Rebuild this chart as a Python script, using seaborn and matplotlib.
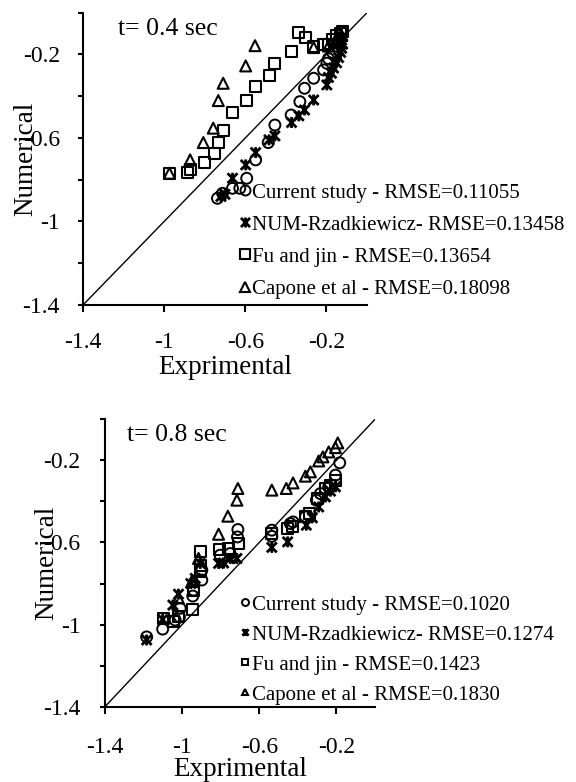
import numpy as np
import pandas as pd
import matplotlib
matplotlib.use("Agg")
import matplotlib.pyplot as plt
from matplotlib.path import Path
from matplotlib.lines import Line2D
import seaborn as sns

sns.set_theme(style="ticks")
plt.rcParams["font.family"] = ["Liberation Serif", "DejaVu Serif"]

# ---------------- t = 0.4 sec ----------------
cur04_x = [-0.737, -0.712, -0.663, -0.627, -0.593, -0.549, -0.487, -0.454, -0.374, -0.331,
           -0.308, -0.263, -0.214, -0.198, -0.19, -0.17, -0.15, -0.14, -0.13]
cur04_y = [-0.889, -0.865, -0.841, -0.841, -0.793, -0.705, -0.622, -0.538, -0.49, -0.426,
           -0.362, -0.314, -0.274, -0.242, -0.22, -0.19, -0.16, -0.14, -0.12]
num04_x = [-0.72, -0.70, -0.663, -0.598, -0.549, -0.483, -0.454, -0.372, -0.336, -0.308,
           -0.263, -0.198, -0.19, -0.175, -0.165, -0.15, -0.14, -0.13, -0.125, -0.12]
num04_y = [-0.88, -0.87, -0.793, -0.729, -0.67, -0.609, -0.59, -0.526, -0.494, -0.466,
           -0.418, -0.346, -0.31, -0.29, -0.265, -0.24, -0.215, -0.19, -0.17, -0.15]
fu04_x = [-0.974, -0.884, -0.872, -0.802, -0.753, -0.733, -0.707, -0.663, -0.595, -0.549,
          -0.48, -0.454, -0.374, -0.336, -0.303, -0.263, -0.214, -0.19, -0.17, -0.15,
          -0.13, -0.12]
fu04_y = [-0.77, -0.767, -0.752, -0.718, -0.676, -0.622, -0.565, -0.479, -0.421, -0.354,
          -0.303, -0.242, -0.186, -0.095, -0.117, -0.162, -0.154, -0.15, -0.13, -0.11,
          -0.10, -0.09]
cap04_x = [-0.974, -0.872, -0.807, -0.758, -0.733, -0.709, -0.598, -0.552, -0.263, -0.19,
           -0.16, -0.14, -0.125]
cap04_y = [-0.769, -0.705, -0.622, -0.553, -0.421, -0.338, -0.255, -0.158, -0.167, -0.16,
           -0.14, -0.12, -0.11]
labels04 = ["Current study - RMSE=0.11055", "NUM-Rzadkiewicz- RMSE=0.13458",
            "Fu and jin - RMSE=0.13654", "Capone et al - RMSE=0.18098"]

# ---------------- t = 0.8 sec ----------------
cur08_x = [-1.184, -1.101, -1.036, -1.014, -1.01, -0.945, -0.941, -0.898, -0.898, -0.803,
           -0.751, -0.713, -0.711, -0.535, -0.535, -0.439, -0.425, -0.361, -0.304, -0.283,
           -0.24, -0.205, -0.183]
cur08_y = [-1.06, -1.022, -0.978, -0.962, -0.921, -0.861, -0.832, -0.783, -0.735, -0.662,
           -0.654, -0.573, -0.537, -0.54, -0.57, -0.508, -0.50, -0.475, -0.394, -0.362,
           -0.329, -0.272, -0.212]
num08_x = [-1.184, -1.101, -1.048, -1.019, -0.955, -0.932, -0.906, -0.811, -0.785, -0.751,
           -0.716, -0.535, -0.453, -0.356, -0.325, -0.292, -0.257, -0.231, -0.205]
num08_y = [-1.075, -0.975, -0.905, -0.852, -0.80, -0.775, -0.702, -0.702, -0.70, -0.678,
           -0.678, -0.624, -0.597, -0.516, -0.48, -0.427, -0.378, -0.35, -0.329]
fu08_x = [-1.097, -1.045, -1.02, -0.946, -0.941, -0.906, -0.906, -0.906, -0.808, -0.759,
          -0.708, -0.535, -0.456, -0.43, -0.361, -0.34, -0.30, -0.257, -0.231, -0.205]
fu08_y = [-0.97, -0.986, -0.96, -0.926, -0.832, -0.743, -0.71, -0.642, -0.634, -0.629,
          -0.605, -0.556, -0.532, -0.52, -0.475, -0.46, -0.386, -0.337, -0.321, -0.297]
cap08_x = [-1.02, -0.95, -0.915, -0.811, -0.763, -0.716, -0.711, -0.535, -0.46, -0.425,
           -0.361, -0.335, -0.292, -0.27, -0.24, -0.205, -0.193]
cap08_y = [-0.87, -0.79, -0.678, -0.56, -0.472, -0.394, -0.337, -0.345, -0.337, -0.31,
           -0.277, -0.256, -0.203, -0.183, -0.159, -0.138, -0.115]
labels08 = ["Current study - RMSE=0.1020", "NUM-Rzadkiewicz- RMSE=0.1274",
            "Fu and jin - RMSE=0.1423", "Capone et al - RMSE=0.1830"]

tick_vals = [-1.4, -1.0, -0.6, -0.2]
tick_text = ["-1.4", "-1", "-0.6", "-0.2"]

# asterisk-style marker: an X crossed by a vertical bar
star = Path([(-1, -1), (1, 1), (-1, 1), (1, -1), (0, -1.1), (0, 1.1)],
            [Path.MOVETO, Path.LINETO, Path.MOVETO, Path.LINETO, Path.MOVETO, Path.LINETO])
markers = ["o", star, "s", "^"]
marker_lw = [1.4, 2.0, 1.5, 1.5]

fig = plt.figure(figsize=(5.76, 7.82), dpi=100)


def panel(rect, series, labels, title, leg_anchor, leg_ms, leg_space,
          ylab_x, xlab_y, ypad, xpad):
    ax = fig.add_axes(rect)
    frames = []
    for (xs, ys), lab in zip(series, labels):
        frames.append(pd.DataFrame({"Exprimental": xs, "Numerical": ys, "Series": lab}))
    df = pd.concat(frames, ignore_index=True)
    ax.plot([-1.4, 0], [-1.4, 0], color="black", lw=1.0, zorder=1)
    for lab, m, lw in zip(labels, markers, marker_lw):
        sub = df[df["Series"] == lab]
        sns.scatterplot(data=sub, x="Exprimental", y="Numerical", marker=m, s=62,
                        facecolor="none", edgecolor="black", linewidth=lw,
                        ax=ax, legend=False, zorder=3)
    ax.set_xlim(-1.4, 0)
    ax.set_ylim(-1.4, 0)
    for s in ("top", "right"):
        ax.spines[s].set_visible(False)
    for s in ("left", "bottom"):
        ax.spines[s].set_linewidth(1.5)
        ax.spines[s].set_color("black")
    ax.set_xticks(tick_vals)
    ax.set_xticklabels(tick_text)
    yt = np.round(np.arange(-1.4, 0.01, 0.2), 1)
    ax.set_yticks(yt)
    ax.set_yticklabels(["-1.4", "", "-1", "", "-0.6", "", "-0.2", ""])
    ax.tick_params(axis="x", direction="out", length=5, width=1.5, labelsize=17,
                   pad=xpad, colors="black")
    ax.tick_params(axis="y", direction="out", length=3.6, width=1.5, labelsize=17,
                   pad=ypad, colors="black")
    ax.set_xlabel("Exprimental", fontsize=19.5, color="black")
    ax.set_ylabel("Numerical", fontsize=19.5, color="black")
    ax.xaxis.set_label_coords(0.5, xlab_y)
    ax.yaxis.set_label_coords(ylab_x, 0.5)
    ax.text(title[1], title[2], title[0], transform=ax.transAxes, fontsize=18.5,
            va="baseline", ha="left", color="black")
    ax.patch.set_alpha(0)
    handles = [Line2D([], [], marker=m, ls="none", mfc="none", mec="black",
                      mew=lw, ms=leg_ms) for m, lw in zip(markers, marker_lw)]
    leg = fig.legend(handles, labels, loc="upper left", bbox_to_anchor=leg_anchor,
                     frameon=False, fontsize=15, handlelength=0.5, handletextpad=0.1,
                     borderpad=0, borderaxespad=0, labelspacing=leg_space)
    for t in leg.get_texts():
        t.set_color("black")
    return ax


panel([83 / 576, 1 - 305 / 782, 284 / 576, 292.3 / 782],
      [(cur04_x, cur04_y), (num04_x, num04_y), (fu04_x, fu04_y), (cap04_x, cap04_y)],
      labels04, ("t= 0.4 sec", 0.123, 0.924), (240 / 576, 1 - 183 / 782), 7.2, 0.6,
      -0.159, -0.17, 13, 14.5)

panel([105 / 576, 1 - 706.7 / 782, 270 / 576, 287.4 / 782],
      [(cur08_x, cur08_y), (num08_x, num08_y), (fu08_x, fu08_y), (cap08_x, cap08_y)],
      labels08, ("t= 0.8 sec", 0.08, 0.924), (240 / 576, 1 - 595 / 782), 5.0, 0.5,
      -0.17, -0.174, 14, 16.5)

fig.savefig("out.png", dpi=100)
